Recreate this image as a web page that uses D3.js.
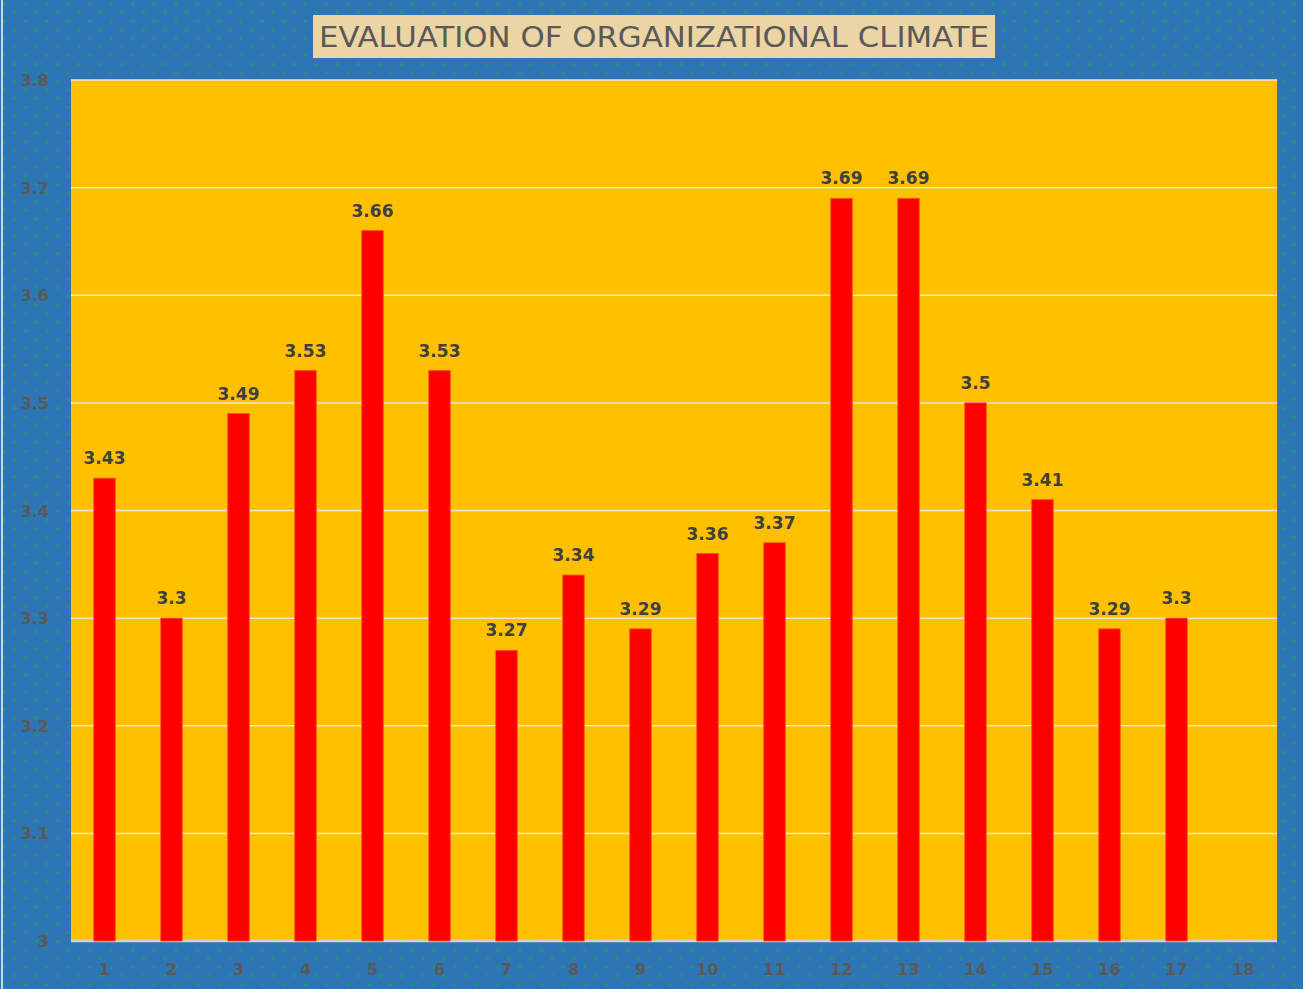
<!DOCTYPE html>
<meta charset="utf-8">
<style>
  body { margin: 0; background: #2e75b6; }
  text { font-family: "DejaVu Sans", Verdana, sans-serif; }
</style>
<svg width="1303" height="989"></svg>
<script src="https://d3js.org/d3.v7.min.js"></script>
<script>
  const categories = ['1', '2', '3', '4', '5', '6', '7', '8', '9', '10', '11', '12', '13', '14', '15', '16', '17', '18']
  const values = [3.43, 3.3, 3.49, 3.53, 3.66, 3.53, 3.27, 3.34, 3.29, 3.36, 3.37, 3.69, 3.69, 3.5, 3.41, 3.29, 3.3, null]
  const yTicks = [3, 3.1, 3.2, 3.3, 3.4, 3.5, 3.6, 3.7, 3.8]
  const title = 'EVALUATION OF ORGANIZATIONAL CLIMATE'

  const width = 1303
  const height = 989
  const plot = { left: 71, right: 1277, top: 80, bottom: 941 }

  const svg = d3.select('svg')

  // dotted blue background
  const defs = svg.append('defs')
  const pat = defs.append('pattern')
    .attr('id', 'dots')
    .attr('width', 21.5)
    .attr('height', 17.2)
    .attr('patternUnits', 'userSpaceOnUse')
  pat.append('rect').attr('width', 21.5).attr('height', 17.2).attr('fill', '#2e75b6')
  pat.append('circle').attr('cx', 4).attr('cy', 4).attr('r', 1.6).attr('fill', '#1a9c62')
  pat.append('circle').attr('cx', 14.75).attr('cy', 12.6).attr('r', 1.6).attr('fill', '#1a9c62')

  svg.append('rect').attr('width', width).attr('height', height).attr('fill', 'url(#dots)')
  svg.append('line').attr('x1', 2).attr('x2', 2).attr('y1', 0).attr('y2', height)
    .attr('stroke', '#c9d3dd').attr('stroke-width', 2)

  const x = d3.scaleBand().domain(categories).range([plot.left, plot.right]).paddingInner(0.68).paddingOuter(0.34)
  const y = d3.scaleLinear().domain([3, 3.8]).range([plot.bottom, plot.top])

  // plot area
  svg.append('rect')
    .attr('x', plot.left).attr('y', plot.top)
    .attr('width', plot.right - plot.left).attr('height', plot.bottom - plot.top)
    .attr('fill', '#ffc000')

  // gridlines
  svg.append('g')
    .selectAll('line')
    .data(yTicks)
    .enter().append('line')
    .attr('x1', plot.left).attr('x2', plot.right)
    .attr('y1', d => y(d)).attr('y2', d => y(d))
    .attr('stroke', d => d === 3 ? '#d0d4d8' : '#ece6d2')
    .attr('stroke-width', d => d === 3 ? 2.5 : 1.5)

  // y labels
  svg.append('g')
    .selectAll('text')
    .data(yTicks)
    .enter().append('text')
    .attr('x', 49).attr('y', d => y(d) + 6)
    .attr('text-anchor', 'end')
    .attr('font-size', 16).attr('font-weight', 'bold')
    .attr('fill', '#595959')
    .text(d => d)

  // x labels
  svg.append('g')
    .selectAll('text')
    .data(categories)
    .enter().append('text')
    .attr('x', d => x(d) + x.bandwidth() / 2).attr('y', 975)
    .attr('text-anchor', 'middle')
    .attr('font-size', 16).attr('font-weight', 'bold')
    .attr('fill', '#595959')
    .text(d => d)

  const data = categories.map((c, i) => ({ c: c, v: values[i] })).filter(d => d.v != null)

  // bars
  svg.append('g')
    .selectAll('rect')
    .data(data)
    .enter().append('rect')
    .attr('x', d => x(d.c)).attr('width', x.bandwidth())
    .attr('y', d => y(d.v)).attr('height', d => plot.bottom - y(d.v))
    .attr('fill', '#ff0000')
    .attr('stroke', '#ff4a1a').attr('stroke-width', 0.8)

  // value labels
  svg.append('g')
    .selectAll('text')
    .data(data)
    .enter().append('text')
    .attr('x', d => x(d.c) + x.bandwidth() / 2).attr('y', d => y(d.v) - 14)
    .attr('text-anchor', 'middle')
    .attr('font-size', 17).attr('font-weight', 'bold')
    .attr('fill', '#404040')
    .text(d => d.v)

  // title box
  svg.append('rect')
    .attr('x', 313).attr('y', 15).attr('width', 682).attr('height', 43)
    .attr('fill', '#ecd5a4')
  svg.append('text')
    .attr('x', 654).attr('y', 47)
    .attr('text-anchor', 'middle')
    .attr('font-family', '"Open Sans", sans-serif')
    .attr('font-size', 28)
    .attr('textLength', 670).attr('lengthAdjust', 'spacingAndGlyphs')
    .attr('fill', '#595959')
    .text(title)
</script>
